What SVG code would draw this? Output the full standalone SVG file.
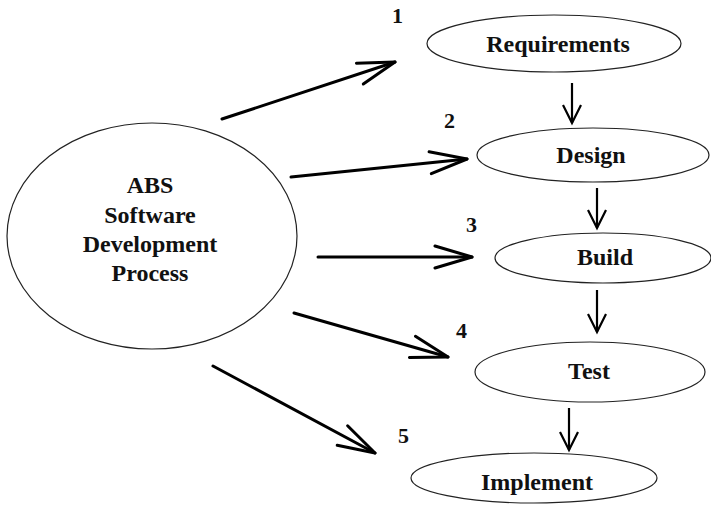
<svg xmlns="http://www.w3.org/2000/svg" width="711" height="506" viewBox="0 0 711 506">
  <style>
    .node ellipse { fill: #ffffff; stroke: #222; stroke-width: 1.2; }
    .lbl { font-family: "Liberation Serif", "Times New Roman", serif; font-weight: bold; font-size: 24px; fill: #111; text-anchor: middle; }
    .num { font-family: "Liberation Serif", "Times New Roman", serif; font-weight: bold; font-size: 22px; fill: #111; }
    .big { stroke: #000; stroke-width: 3; fill: none; stroke-linecap: round; }
    .small { stroke: #000; stroke-width: 2.2; fill: none; }
  </style>
  <defs>
    <marker id="headBig" markerUnits="userSpaceOnUse" viewBox="-45 -20 50 40" refX="0" refY="0" markerWidth="50" markerHeight="40" orient="auto">
      <path d="M -37 -11 L 0 0 L -37 11" fill="none" stroke="#000" stroke-width="3" stroke-linecap="round" stroke-linejoin="round"/>
    </marker>
    <marker id="headSmall" markerUnits="userSpaceOnUse" viewBox="-22 -12 26 24" refX="0" refY="0" markerWidth="26" markerHeight="24" orient="auto">
      <path d="M -18 -9 L 0 0 L -18 9" fill="none" stroke="#000" stroke-width="2.2" stroke-linejoin="miter"/>
    </marker>
  </defs>
  <rect width="711" height="506" fill="#ffffff"/>

  <g id="connectors">
    <line class="big" x1="222" y1="119" x2="395" y2="62" marker-end="url(#headBig)"/>
    <line class="big" x1="291" y1="177" x2="467" y2="159" marker-end="url(#headBig)"/>
    <line class="big" x1="318" y1="257" x2="472" y2="257" marker-end="url(#headBig)"/>
    <line class="big" x1="294" y1="313" x2="448" y2="357" marker-end="url(#headBig)"/>
    <line class="big" x1="213" y1="366" x2="375" y2="453" marker-end="url(#headBig)"/>
    <line class="small" x1="572" y1="83" x2="572" y2="123" marker-end="url(#headSmall)"/>
    <line class="small" x1="597" y1="188" x2="597" y2="228" marker-end="url(#headSmall)"/>
    <line class="small" x1="597" y1="290" x2="597" y2="332" marker-end="url(#headSmall)"/>
    <line class="small" x1="569" y1="408" x2="569" y2="450" marker-end="url(#headSmall)"/>
    <text class="num" x="392" y="23">1</text>
    <text class="num" x="444" y="128">2</text>
    <text class="num" x="466" y="232">3</text>
    <text class="num" x="456" y="338">4</text>
    <text class="num" x="398" y="443">5</text>
  </g>

  <g id="process" class="node">
    <ellipse cx="152" cy="236" rx="145" ry="113"/>
    <text class="lbl" x="150" y="193">ABS</text>
    <text class="lbl" x="150" y="223">Software</text>
    <text class="lbl" x="150" y="252">Development</text>
    <text class="lbl" x="150" y="281">Process</text>
  </g>
  <g id="requirements" class="node">
    <ellipse cx="554" cy="43.5" rx="127" ry="28.5"/>
    <text class="lbl" x="558" y="52">Requirements</text>
  </g>
  <g id="design" class="node">
    <ellipse cx="593" cy="155" rx="116" ry="27"/>
    <text class="lbl" x="591" y="163">Design</text>
  </g>
  <g id="build" class="node">
    <ellipse cx="603" cy="258" rx="108" ry="25"/>
    <text class="lbl" x="605" y="265">Build</text>
  </g>
  <g id="test" class="node">
    <ellipse cx="590" cy="372" rx="115" ry="30"/>
    <text class="lbl" x="589" y="379">Test</text>
  </g>
  <g id="implement" class="node">
    <ellipse cx="534" cy="478" rx="123" ry="25"/>
    <text class="lbl" x="537" y="490">Implement</text>
  </g>
</svg>
